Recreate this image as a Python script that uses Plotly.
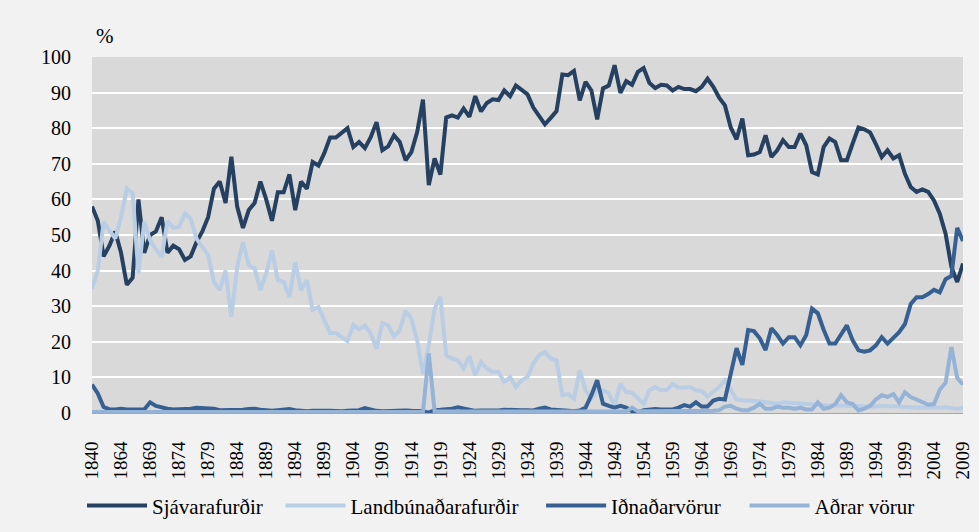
"""
Vöruútflutningur Íslands eftir flokkum, hlutfall af heild (%), 1840-2009.
"""

import plotly.graph_objects as go

# years on the category axis: a few early years, then yearly 1864-2009
years = [1840, 1849, 1855, 1858, 1862] + list(range(1864, 2010))

sjavarafurdir = [
    58, 54, 44, 47, 51, 45, 36, 38, 60, 45,
    50, 51, 55, 45, 47, 46, 43, 44, 48, 51,
    55, 63, 65, 59, 72, 58, 52, 57, 59, 65,
    60, 54, 62, 62, 67, 57, 65, 63, 70.5, 69.5,
    73, 77.4, 77.4, 78.8, 80, 74.7, 76.1, 74.4, 77.5, 81.7,
    73.8, 74.9, 78, 76.1, 71, 73.3, 78.9, 88, 64, 71.5,
    67, 83, 83.6, 83, 85.5, 83.2, 89, 84.7, 87.1, 88.1,
    87.9, 90.6, 89, 92, 90.6, 89.5, 85.8, 83.3, 81.1, 82.9,
    84.8, 95.1, 94.9, 96.1, 87.8, 93, 90.6, 82.5, 91.2, 92,
    97.7, 89.9, 93.2, 92.2, 95.8, 96.9, 92.7, 91.3, 92.2, 92,
    90.6, 91.6, 91, 91, 90.4, 91.6, 93.9, 91.6, 88.6, 86.4,
    80.2, 76.9, 82.7, 72.4, 72.6, 73.3, 78, 71.9, 73.8, 76.6,
    74.7, 74.7, 78.5, 75.2, 67.7, 67, 74.7, 77.1, 76.1, 71,
    71, 75.7, 80.2, 79.7, 78.8, 75.5, 71.9, 73.8, 71.5, 72.4,
    67.2, 63.5, 62.1, 62.8, 62.1, 59.7, 56, 50.4, 41, 36.8,
    42,
]

landbunadarafurdir = [
    35, 40, 53.7, 51.3, 49, 55, 63, 61.7, 39.2, 53.7,
    48.5, 46, 43.8, 54, 52, 52.3, 56, 54.6, 49, 46.6,
    44.3, 36.8, 34.5, 40, 27, 41, 48, 41.5, 40.6, 34.5,
    39.2, 45.7, 37.3, 36.8, 32.6, 42.4, 34.5, 37.3, 29, 29.8,
    26, 22.5, 22.5, 21.3, 20.2, 24.8, 23.5, 24.6, 22.3, 18.1,
    25.3, 24.6, 21.5, 23.2, 28.7, 26.5, 20.4, 11, 19, 29.3,
    32.6, 16.2, 15.3, 14.8, 12.5, 15.9, 10.6, 14.3, 12.5, 11.5,
    11.5, 8.7, 10.1, 7.3, 9.2, 10.1, 13.9, 16.2, 17.1, 15.3,
    14.8, 5, 5.3, 4, 12, 6.4, 4, 6.4, 6.4, 5.5,
    2, 8.2, 5.9, 5.7, 4, 2.6, 6.4, 7.3, 6.4, 6.5,
    8.2, 7.1, 7.1, 7.3, 6.4, 6.2, 4.6, 5.8, 7.3, 9.2,
    6.5, 3.8, 3.6, 3.6, 3.4, 3.2, 3, 2.6, 2.6, 3,
    3, 2.8, 2.7, 2.5, 2.5, 2.3, 2.2, 2.2, 2, 2,
    2, 2.2, 2, 1.8, 1.7, 1.8, 2, 2, 1.8, 1.8,
    1.7, 1.6, 1.6, 1.5, 1.6, 1.5, 1.5, 1.6, 1.4, 1.2,
    1.4,
]

idnadarvorur = [
    8, 5.5, 1.7, 1, 1, 1.2, 1, 1.1, 1, 1,
    3, 2, 1.5, 1.2, 1, 1, 1, 1.2, 1.5, 1.4,
    1.5, 1.2, 0.8, 0.8, 0.7, 0.8, 0.9, 1.1, 1.2, 0.9,
    0.7, 0.6, 0.8, 1, 1.1, 0.8, 0.6, 0.5, 0.6, 0.5,
    0.6, 0.6, 0.5, 0.5, 0.6, 0.7, 0.8, 1.4, 0.9, 0.6,
    0.5, 0.6, 0.5, 0.6, 0.7, 0.6, 0.6, 0.5, 0.1, 0.8,
    0.9, 1, 1.2, 1.6, 1.3, 0.8, 0.6, 0.7, 0.7, 0.6,
    0.7, 0.9, 0.8, 0.7, 0.8, 0.8, 0.7, 1.2, 1.5, 1,
    0.8, 0.6, 0.6, 0.5, 0.7, 1.5, 5, 9.2, 2.6, 2,
    1.5, 2, 1.5, 0.5, 0.2, 0.8, 1, 1.1, 1, 1,
    1, 1.5, 2.2, 1.8, 3, 1.8, 1.8, 3.5, 4, 3.8,
    10.8, 18.2, 13.5, 23.3, 23, 21, 17.7, 23.8, 21.9, 19.5,
    21.3, 21.3, 19, 21.9, 29.3, 28, 23.4, 19.5, 19.5, 21.9,
    24.6, 20.4, 17.6, 17.2, 17.6, 19, 21.3, 19.5, 21.3, 22.7,
    25, 30.6, 32.5, 32.5, 33.4, 34.6, 33.9, 37.6, 38.5, 52,
    48.3,
]

adrar_vorur = [
    0.3, 0.3, 0.3, 0.3, 0.3, 0.3, 0.3, 0.3, 0.3, 0.3,
    0.3, 0.3, 0.3, 0.3, 0.3, 0.3, 0.3, 0.3, 0.3, 0.3,
    0.3, 0.3, 0.3, 0.3, 0.3, 0.3, 0.3, 0.3, 0.3, 0.3,
    0.3, 0.3, 0.3, 0.3, 0.3, 0.3, 0.3, 0.3, 0.3, 0.3,
    0.3, 0.3, 0.3, 0.3, 0.3, 0.3, 0.4, 0.4, 0.3, 0.3,
    0.3, 0.3, 0.3, 0.3, 0.3, 0.3, 0.3, 0.3, 16.7, 0.5,
    0.4, 0.4, 0.4, 0.5, 0.4, 0.3, 0.3, 0.3, 0.3, 0.3,
    0.3, 0.3, 0.3, 0.3, 0.3, 0.3, 0.3, 0.4, 0.4, 0.3,
    0.3, 0.3, 0.3, 0.3, 0.3, 0.3, 0.3, 0.3, 0.3, 0.3,
    0.3, 0.3, 0.4, 1.5, 0.5, 0.5, 0.5, 0.5, 0.5, 0.5,
    0.5, 0.5, 0.5, 0.5, 0.5, 0.5, 0.5, 0.6, 0.8, 1.8,
    2, 1.2, 0.8, 0.8, 1.5, 2.6, 1.2, 1.2, 1.8, 1.5,
    1.5, 1.2, 1.5, 1, 1, 3, 1.2, 1.5, 2.5, 5,
    3, 2.5, 0.7, 1.2, 2, 3.8, 5, 4.5, 5.3, 3,
    5.8, 4.5, 3.8, 3, 2.3, 2.5, 6.5, 8.5, 18.5, 9.9,
    8,
]

SERIES = [
    ("Sjávarafurðir", sjavarafurdir, "#254061"),
    ("Landbúnaðarafurðir", landbunadarafurdir, "#B9CDE5"),
    ("Iðnaðarvörur", idnadarvorur, "#376092"),
    ("Aðrar vörur", adrar_vorur, "#95B3D7"),
]

# one legend box per series so the entries sit where the original has them
LEGEND_X = [0.0838, 0.2865, 0.5527, 0.7605]

SERIF = "Liberation Serif"

cats = [str(y) for y in years]

fig = go.Figure()
for k, (name, values, color) in enumerate(SERIES):
    fig.add_trace(
        go.Scatter(
            x=cats,
            y=values,
            name=name,
            mode="lines",
            line=dict(color=color, width=4),
            showlegend=True,
            legend="legend" if k == 0 else f"legend{k + 1}",
        )
    )

legend_style = dict(
    orientation="h",
    xref="container",
    xanchor="left",
    y=0.049,
    yref="container",
    yanchor="middle",
    font=dict(family=SERIF, size=21),
    itemwidth=60,
    bgcolor="rgba(0,0,0,0)",
)

fig.update_layout(
    width=979,
    height=532,
    showlegend=True,
    paper_bgcolor="#F2F2F2",
    plot_bgcolor="#D9D9D9",
    margin=dict(l=92, r=16, t=57, b=119, autoexpand=False),
    font=dict(family=SERIF, color="black"),
    legend=dict(legend_style, x=LEGEND_X[0]),
    legend2=dict(legend_style, x=LEGEND_X[1]),
    legend3=dict(legend_style, x=LEGEND_X[2]),
    legend4=dict(legend_style, x=LEGEND_X[3]),
    annotations=[
        dict(
            text="%",
            x=0.015,
            y=1.059,
            xref="paper",
            yref="paper",
            xanchor="center",
            yanchor="middle",
            showarrow=False,
            font=dict(family=SERIF, size=21),
        )
    ],
)

fig.update_yaxes(
    range=[0, 100],
    dtick=10,
    showgrid=True,
    gridcolor="white",
    gridwidth=2,
    zeroline=False,
    showline=False,
    automargin=False,
    tickfont=dict(family=SERIF, size=20),
    ticklabelstandoff=20,
)

fig.update_xaxes(
    type="category",
    range=[0, len(cats) - 1],
    tickmode="array",
    tickvals=cats[::5],
    ticktext=cats[::5],
    tickangle=-90,
    tickfont=dict(family=SERIF, size=19),
    showgrid=False,
    showline=True,
    linecolor="#A6A6A6",
    linewidth=1,
    automargin=False,
    ticklabelstandoff=20,
)

# the page's default 8px body margin would shift the figure off the window
fig.write_html(
    "out.html",
    config={"displayModeBar": False},
    post_script="document.body.style.margin = '0px';",
)
